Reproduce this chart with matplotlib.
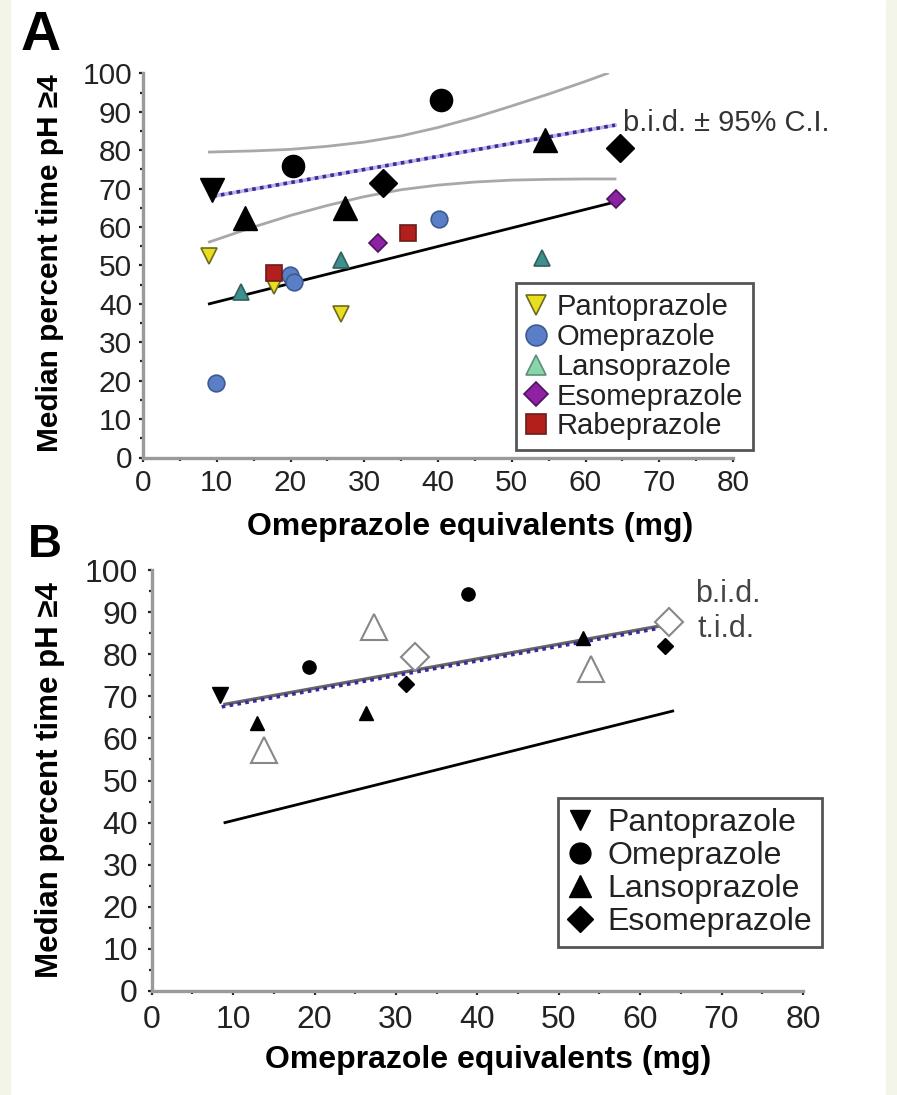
import matplotlib
matplotlib.use('Agg')
import matplotlib.pyplot as plt
from matplotlib.lines import Line2D
from matplotlib.patches import Rectangle
from matplotlib.ticker import MultipleLocator

plt.rcParams['font.family'] = ['Liberation Sans', 'DejaVu Sans']

# ---- panel A: once daily (coloured) ----
panto_x = [8.9, 17.8, 26.9]
panto_y = [52.4, 44.7, 37.3]
omep_x = [9.9, 19.9, 20.5, 40.1]
omep_y = [19.3, 47.5, 45.8, 62.0]
lanso_x = [13.3, 26.9, 54.1]
lanso_y = [43.2, 51.4, 51.8]
esome_x = [31.9, 64.2]
esome_y = [55.9, 67.2]
rabe_x = [17.8, 35.9]
rabe_y = [47.9, 58.5]

# ---- panel A: b.i.d. (black) ----
panto_bid_x = [9.3]
panto_bid_y = [69.6]
omep_bid_x = [20.4, 40.4]
omep_bid_y = [75.9, 93.1]
lanso_bid_x = [13.8, 27.4, 54.5]
lanso_bid_y = [62.3, 64.9, 82.6]
esome_bid_x = [32.5, 64.7]
esome_bid_y = [71.4, 80.5]

# fitted lines
qd_fit_x = [9, 64]
qd_fit_y = [40, 66.5]
bid_fit_x = [9.5, 64]
bid_fit_y = [68, 86.5]
ci_up_x = [9, 15, 20, 25, 30, 35, 40, 45, 50, 55, 60, 63]
ci_up_y = [79.5, 79.8, 80.2, 81.0, 82.1, 83.7, 85.9, 88.5, 91.5, 94.6, 97.9, 100.0]
ci_lo_x = [9, 15, 20, 25, 30, 35, 40, 45, 50, 55, 60, 64]
ci_lo_y = [56.1, 60.0, 63.0, 65.6, 67.9, 69.7, 70.9, 71.7, 72.2, 72.4, 72.5, 72.5]

# ---- panel B: b.i.d. (small black) and t.i.d. (open) ----
panto_b_x = [8.4]
panto_b_y = [70.3]
omep_b_x = [19.3, 38.8]
omep_b_y = [76.9, 94.2]
lanso_b_x = [12.9, 26.3, 53.0]
lanso_b_y = [63.7, 66.1, 83.9]
esome_b_x = [31.2, 63.0]
esome_b_y = [72.9, 81.9]
lanso_tid_x = [13.8, 27.3, 53.9]
lanso_tid_y = [57.2, 86.5, 76.6]
esome_tid_x = [32.3, 63.5]
esome_tid_y = [79.4, 87.7]

bid_b_fit_x = [8.6, 62.4]
bid_b_fit_y = [67.5, 86.2]
tid_b_fit_x = [9, 63]
tid_b_fit_y = [68.1, 86.9]

names = ['Pantoprazole', 'Omeprazole', 'Lansoprazole', 'Esomeprazole', 'Rabeprazole']

fig = plt.figure(figsize=(8.97, 10.95), dpi=100)
fig.patches.append(Rectangle((0, 0), 10 / 897, 1, transform=fig.transFigure,
                             color='#f3f5e8', zorder=-10))
fig.patches.append(Rectangle((886 / 897, 0), 11 / 897, 1, transform=fig.transFigure,
                             color='#f3f5e8', zorder=-10))

axA = fig.add_axes([143 / 897, 1 - 457.5 / 1095, 590 / 897, 384.2 / 1095])
axB = fig.add_axes([151.7 / 897, 1 - 991 / 1095, 651.3 / 897, 421 / 1095])


def style_axes(ax, tick_fs, pad):
    ax.set_xlim(0, 80)
    ax.set_ylim(0, 100)
    for s in ['top', 'right']:
        ax.spines[s].set_visible(False)
    for s in ['left', 'bottom']:
        ax.spines[s].set_color('#9a9a9a')
        ax.spines[s].set_linewidth(2.4)
    ax.xaxis.set_major_locator(MultipleLocator(10))
    ax.xaxis.set_minor_locator(MultipleLocator(5))
    ax.yaxis.set_major_locator(MultipleLocator(10))
    ax.yaxis.set_minor_locator(MultipleLocator(5))
    ax.tick_params(which='major', direction='out', length=3, width=1.6,
                   color='#222222', labelsize=tick_fs, labelcolor='#222222', pad=pad)
    ax.tick_params(which='minor', direction='out', length=2.5, width=1.6, color='#222222')


style_axes(axA, 21.5, 5)
style_axes(axB, 23, 7)

# ---- panel A ----
axA.plot(ci_up_x, ci_up_y, color='#a8a8a8', lw=2)
axA.plot(ci_lo_x, ci_lo_y, color='#a8a8a8', lw=2)
axA.plot(qd_fit_x, qd_fit_y, color='black', lw=2)
axA.plot(bid_fit_x, bid_fit_y, color='#bdb4e6', lw=2.6)
axA.plot(bid_fit_x, bid_fit_y, color='#3a2a9a', lw=2.6, ls=(0, (1, 1.2)))

ek = dict(linestyle='none', color='black', zorder=4)
axA.plot(panto_bid_x, panto_bid_y, marker='v', ms=17, **ek)
axA.plot(omep_bid_x, omep_bid_y, marker='o', ms=16, **ek)
axA.plot(lanso_bid_x, lanso_bid_y, marker='^', ms=17, **ek)
axA.plot(esome_bid_x, esome_bid_y, marker='D', ms=14, **ek)

cols = {
    'Pantoprazole': ('v', 12, '#e6de1e', '#6d6a20'),
    'Omeprazole': ('o', 12, '#5b7fc6', '#3d5a92'),
    'Lansoprazole': ('^', 11, '#3f8f8c', '#2f5f5e'),
    'Esomeprazole': ('D', 9.5, '#8f22a2', '#4c1460'),
    'Rabeprazole': ('s', 11, '#b3201c', '#6b1c1a'),
}
series = [(panto_x, panto_y), (omep_x, omep_y), (lanso_x, lanso_y),
          (esome_x, esome_y), (rabe_x, rabe_y)]
for name, (xs, ys) in zip(names, series):
    m, ms, fc, ec = cols[name]
    axA.plot(xs, ys, linestyle='none', marker=m, ms=ms, mfc=fc, mec=ec, mew=1.2, zorder=5)

handlesA = []
for name in names:
    m, ms, fc, ec = cols[name]
    if name == 'Lansoprazole':
        fc, ec = '#86d6aa', '#5f8f78'
    handlesA.append(Line2D([], [], linestyle='none', marker=m, ms=ms * 1.25,
                           mfc=fc, mec=ec, mew=1.2))
legA = axA.legend(handlesA, names, loc='upper left', bbox_to_anchor=(0.632, 0.454),
                  borderaxespad=0, fontsize=21, frameon=True, fancybox=False,
                  edgecolor='#555555', framealpha=1, handlelength=0.7,
                  handletextpad=0.35, labelspacing=0.06, borderpad=0.35)
legA.get_frame().set_linewidth(2)
for t in legA.get_texts():
    t.set_color('#222222')

axA.text(65.1, 87.1, 'b.i.d. \u00b1 95% C.I.', fontsize=21, color='#333333',
         ha='left', va='center')

axA.set_xlabel('Omeprazole equivalents (mg)', fontsize=23, fontweight='bold')
axA.xaxis.set_label_coords(0.554, -0.181)
axA.xaxis.label.set_va('center')
axA.set_ylabel('Median percent time pH \u22654', fontsize=21.5, fontweight='bold')
axA.yaxis.set_label_coords(-0.158, 0.505)
axA.yaxis.label.set_va('center')

# ---- panel B ----
axB.plot(qd_fit_x, qd_fit_y, color='black', lw=2)
axB.plot(tid_b_fit_x, tid_b_fit_y, color='#666666', lw=2.4)
axB.plot(bid_b_fit_x, bid_b_fit_y, color='#3a2a9a', lw=2.6, ls=(0, (1, 1.2)))

axB.plot(lanso_tid_x, lanso_tid_y, linestyle='none', marker='^', ms=19,
         mfc='white', mec='#888888', mew=1.5, zorder=3)
axB.plot(esome_tid_x, esome_tid_y, linestyle='none', marker='D', ms=14.5,
         mfc='white', mec='#888888', mew=1.5, zorder=3)

axB.plot(panto_b_x, panto_b_y, marker='v', ms=11, **ek)
axB.plot(omep_b_x, omep_b_y, marker='o', ms=9.5, **ek)
axB.plot(lanso_b_x, lanso_b_y, marker='^', ms=10, **ek)
axB.plot(esome_b_x, esome_b_y, marker='D', ms=8, **ek)

markersB = ['v', 'o', '^', 'D']
sizesB = [15, 15, 16, 13]
handlesB = [Line2D([], [], linestyle='none', marker=m, ms=s, color='black')
            for m, s in zip(markersB, sizesB)]
legB = axB.legend(handlesB, names[:4], loc='upper left', bbox_to_anchor=(0.624, 0.458),
                  borderaxespad=0, fontsize=23, frameon=True, fancybox=False,
                  edgecolor='#555555', framealpha=1, handlelength=0.8,
                  handletextpad=0.45, labelspacing=0.1, borderpad=0.3)
legB.get_frame().set_linewidth(2)
for t in legB.get_texts():
    t.set_color('#222222')

axB.text(66.7, 94.3, 'b.i.d.', fontsize=22, color='#444444', ha='left', va='center')
axB.text(67.0, 86.0, 't.i.d.', fontsize=22, color='#444444', ha='left', va='center')

axB.set_xlabel('Omeprazole equivalents (mg)', fontsize=23, fontweight='bold')
axB.xaxis.set_label_coords(0.516, -0.164)
axB.xaxis.label.set_va('center')
axB.set_ylabel('Median percent time pH \u22654', fontsize=22.5, fontweight='bold')
axB.yaxis.set_label_coords(-0.156, 0.5)
axB.yaxis.label.set_va('center')

fig.text(41 / 897, 1 - 36 / 1095, 'A', fontsize=40, fontweight='bold',
         ha='center', va='center')
fig.text(45 / 897, 1 - 545 / 1095, 'B', fontsize=34, fontweight='bold',
         ha='center', va='center')

fig.savefig('out.png', dpi=100)
